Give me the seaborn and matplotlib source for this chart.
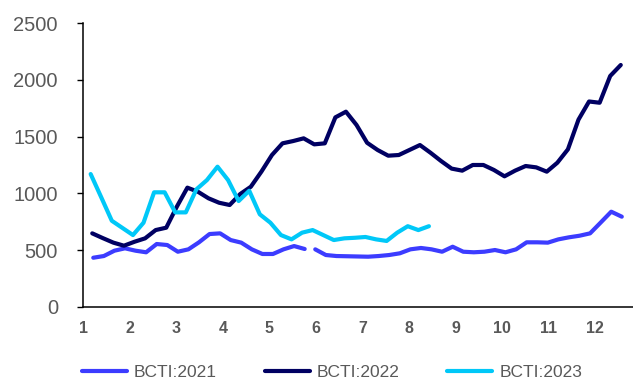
import matplotlib
matplotlib.use("Agg")
import matplotlib.pyplot as plt
from matplotlib.lines import Line2D
import pandas as pd
import seaborn as sns

# ---- data -------------------------------------------------------------
months = list(range(1, 13))
month_labels = [str(m) for m in months]
y_ticks = [0, 500, 1000, 1500, 2000, 2500]

series_names = ["BCTI:2021", "BCTI:2022", "BCTI:2023"]

bcti_2021 = [432, 447, 494, 515, 494, 480, 553, 544, 485, 506,
             568, 641, 647, 588, 565, 506, 465, 465, 506, 535,
             509, 506, 456, 447, 445, 443, 441, 447, 456, 471,
             506, 518, 506, 485, 529, 485, 480, 485, 500, 480,
             506, 568, 568, 565, 594, 612, 626, 647, 742, 838,
             794]
# the 2021 series is published in two runs; the second starts here
bcti_2021_break = 21

bcti_2022 = [647, 605, 565, 538, 573, 603, 676, 697, 882, 1050,
             1014, 956, 917, 897, 994, 1058, 1191, 1338, 1441, 1461,
             1485, 1432, 1441, 1670, 1720, 1603, 1446, 1382, 1332, 1338,
             1382, 1426, 1358, 1285, 1218, 1200, 1250, 1250, 1206, 1150,
             1200, 1241, 1229, 1191, 1270, 1388, 1650, 1810, 1799, 2035,
             2132]

bcti_2023 = [1170, 965, 758, 695, 632, 741, 1009, 1009, 832, 832,
             1035, 1117, 1235, 1117, 932, 1023, 815, 741, 632, 594,
             653, 676, 632, 588, 603, 608, 615, 594, 580, 653,
             710, 676, 710]

# first weekly reading of each year, expressed on the month axis
first_week = {"BCTI:2021": 1.211, "BCTI:2022": 1.189, "BCTI:2023": 1.155}
week_step = 0.2273

colors = {"BCTI:2021": "#3c3cff", "BCTI:2022": "#000062", "BCTI:2023": "#00c8f8"}

# ---- long-form table --------------------------------------------------
rows = []
for name, values in zip(series_names, [bcti_2021, bcti_2022, bcti_2023]):
    for i, v in enumerate(values):
        seg = 1 if (name == "BCTI:2021" and i >= bcti_2021_break) else 0
        rows.append({"month": first_week[name] + i * week_step,
                     "index": v, "series": name, "run": f"{name}-{seg}"})
df = pd.DataFrame(rows)

# ---- figure -----------------------------------------------------------
sns.set_theme(style="white")
plt.rcParams["font.family"] = ["Liberation Sans", "DejaVu Sans"]

fig = plt.figure(figsize=(6.33, 3.82), dpi=100)
ax = fig.add_axes([0.1306, 0.1971, 0.8694, 0.742])

sns.lineplot(data=df, x="month", y="index", hue="series", units="run",
             estimator=None, palette=colors, hue_order=series_names,
             linewidth=3.0, legend=False, ax=ax,
             solid_capstyle="round", solid_joinstyle="round")

ax.set_xlim(0.983, 12.817)
ax.set_ylim(0, 2500)
ax.set_xticks(months)
ax.set_xticklabels(month_labels)
ax.set_yticks(y_ticks)
ax.set_xlabel("")
ax.set_ylabel("")

for side in ["top", "right"]:
    ax.spines[side].set_visible(False)
for side in ["left", "bottom"]:
    ax.spines[side].set_color("black")
    ax.spines[side].set_linewidth(1.1)

ax.tick_params(axis="y", which="major", direction="out", length=4.3,
               width=1.0, color="black", pad=13.5, labelsize=14.5,
               labelcolor="#595959", left=True)
ax.tick_params(axis="x", length=0, pad=10.5, labelsize=11.5,
               labelcolor="#595959")
for lbl in ax.get_xticklabels():
    lbl.set_fontweight("bold")

handles = [Line2D([0], [0], color=colors[n], linewidth=3.0,
                  solid_capstyle="round") for n in series_names]
ax.legend(handles, series_names, loc="center", ncol=3, frameon=False,
          bbox_to_anchor=(332 / 633, 1 - 372 / 382),
          bbox_transform=fig.transFigure, fontsize=12.5,
          labelcolor="#595959", handlelength=2.6, handletextpad=0.4,
          columnspacing=2.75, borderpad=0)

fig.savefig("out.png", dpi=100)
